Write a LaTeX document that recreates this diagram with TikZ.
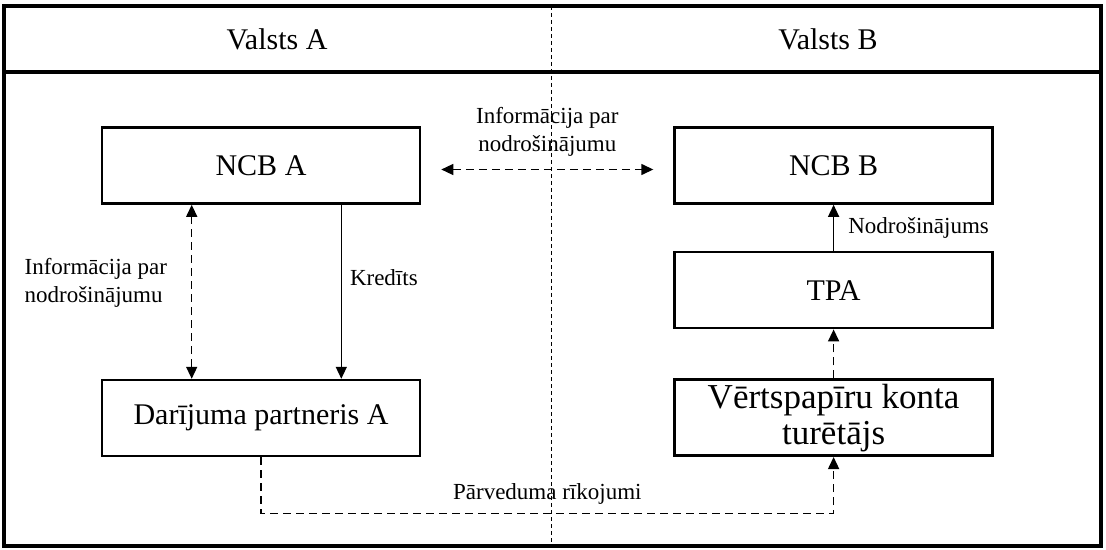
\documentclass[tikz,border=0pt]{standalone}
\usepackage{fontspec}
\setmainfont{Liberation Serif}
\usepackage{tikz}
\usetikzlibrary{arrows.meta, positioning, calc}

\begin{document}
\begin{tikzpicture}[
  x=0.5pt, y=-0.5pt,
  org/.style={rectangle, draw, line width=1.3pt, minimum width=159pt, minimum height=38pt,
              inner sep=2pt, align=center, font=\fontsize{15}{17}\selectfont},
  hdr/.style={font=\fontsize{15}{18}\selectfont},
  note/.style={font=\fontsize{11.5}{14}\selectfont, inner sep=2pt},
  arr/.style={-{Triangle[length=6pt,width=5.5pt]}, line width=0.7pt},
  darr/.style={arr, dash pattern=on 4pt off 2.5pt},
  ddarr/.style={{Triangle[length=6pt,width=5.5pt]}-{Triangle[length=6pt,width=5.5pt]},
                line width=0.7pt, dash pattern=on 4pt off 2.5pt}
]
  \useasboundingbox (0,0) rectangle (1106,550);

  % frame and header
  \draw[line width=2pt] (4,6) rectangle (1101,546);
  \draw[line width=2pt] (4,72) -- (1101,72);
  \draw[line width=0.5pt, dash pattern=on 2pt off 1.5pt] (551,6) -- (551,546);
  \node[hdr] (hdA) at (277,39) {Valsts A};
  \node[hdr] (hdB) at (828,39) {Valsts B};

  % institutions
  \node[org] (ncbA) at (261,165.5) {NCB A};
  \node[org, right=126pt of ncbA] (ncbB) {NCB B};
  \node[org, below=23pt of ncbB] (tpa) {TPA};
  \node[org, below=24.5pt of tpa, inner sep=0.5pt, font=\fontsize{17.5}{18}\selectfont] (vkt) {Vērtspapīru konta\\turētājs};
  \node[org, below=87pt of ncbA] (partA) {Darījuma partneris A};

  % flows
  \draw[ddarr] ([xshift=10pt,yshift=-2pt]ncbA.east) --
    node[note, above=4pt, align=center] (infoAB) {Informācija par\\nodrošinājumu}
    ([xshift=-10pt,yshift=-2pt]ncbB.west);
  \draw[ddarr] ([xshift=45.5pt]ncbA.south west) --
    node[note, left=10pt, pos=0.45, align=left] (infoA) {Informācija par\\nodrošinājumu}
    ([xshift=45.5pt]partA.north west);
  \draw[arr] ([xshift=-40pt]ncbA.south east) --
    node[note, right=2pt, pos=0.42] (kred) {Kredīts}
    ([xshift=-40pt]partA.north east);
  \draw[arr] (tpa.north) -- node[note, right=5pt] (nodr) {Nodrošinājums} (ncbB.south);
  \draw[darr] (vkt.north) -- (tpa.south);
  \draw[darr] (partA.south) -- ++(0,56) -|
    node[note, above=2pt, pos=0.25] (parv) {Pārveduma rīkojumi} (vkt.south);
\end{tikzpicture}
\end{document}
